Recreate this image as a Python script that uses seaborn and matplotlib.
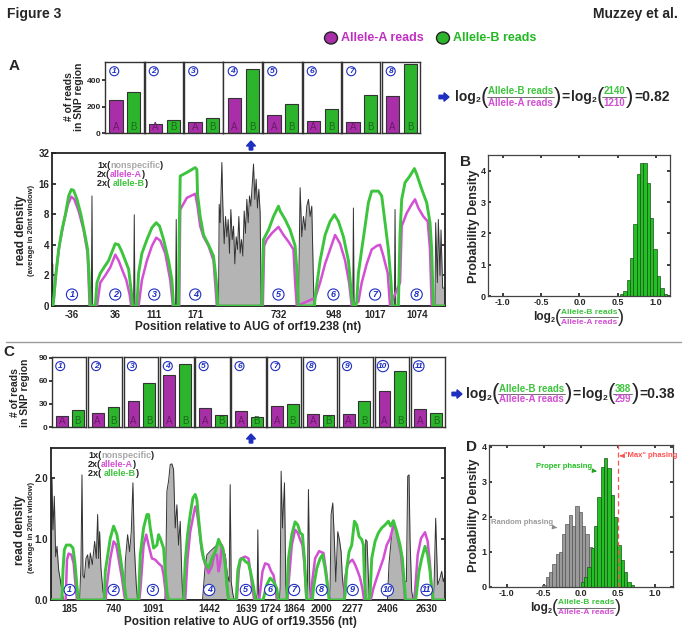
import numpy as np
import pandas as pd
import matplotlib
matplotlib.use('Agg')
import matplotlib.pyplot as plt
import matplotlib.patches as mpatches
import seaborn as sns

# ---------------- data ----------------
# panel A, reads per SNP region (allele A / allele B)
snp_a_alleleA = [248, 71, 86, 268, 139, 94, 86, 284]
snp_a_alleleB = [309, 96, 116, 489, 220, 180, 286, 527]
# panel C
snp_c_alleleA = [14.7, 18.6, 34.2, 67, 24.2, 20.3, 26.8, 16.9, 16.9, 46.8, 23.8]
snp_c_alleleB = [21.6, 26, 57.6, 82, 15.6, 13.4, 29.9, 16, 33.3, 72.7, 18.6]

# x tick labels (positions relative to AUG)
a_ticklabels = ['-36', '36', '111', '171', '732', '948', '1017', '1074']
a_tickpos = [60, 190, 307, 430, 680, 845, 970, 1095]
c_ticklabels = ['185', '740', '1091', '1442', '1639', '1724', '1864', '2000', '2277', '2406', '2630']
c_tickpos = [56, 188, 306, 475, 585, 658, 730, 813, 906, 1010, 1128]

# read density traces, panel A (window position, density)
a_green = [(0, 1.0), (3, 1.0), (10, 1.8), (20, 3.6), (30, 5.6), (40, 7.9), (50, 12.1), (58, 14.0), (65, 13.7),
           (75, 11.2), (87, 7.9), (100, 4.8), (107, 3.6), (111, 2.1), (115, 1.0),
           (130, 1.0), (135, 1.7), (145, 2.1), (160, 2.5), (170, 2.8), (180, 3.4), (190, 4.1), (200, 4.0),
           (210, 3.4), (220, 2.8), (230, 2.3), (238, 1.4), (242, 1.0),
           (255, 1.0), (260, 2.1), (270, 3.3), (285, 4.5), (300, 5.9), (313, 6.6), (323, 6.1), (335, 4.5),
           (350, 2.8), (360, 1.8), (365, 1.0),
           (380, 1.0), (382, 5.0), (385, 19.0), (405, 20.6), (430, 23.0), (435, 22.0), (437, 12.5), (445, 7.6),
           (455, 5.0), (470, 4.0), (485, 3.1), (493, 1.8), (498, 1.0),
           (630, 1.0), (635, 4.5), (650, 5.6), (665, 7.6), (680, 9.6), (685, 8.6), (700, 7.1), (715, 5.6),
           (730, 3.9), (735, 2.3), (740, 1.0),
           (788, 1.0), (790, 1.2), (805, 2.8), (820, 5.0), (835, 6.8), (848, 7.9), (860, 6.8), (875, 4.8),
           (890, 2.8), (900, 1.2), (905, 1.0),
           (912, 1.0), (915, 1.1), (920, 2.1), (930, 3.6), (940, 6.1), (950, 10.4), (960, 13.5), (980, 13.5),
           (990, 12.1), (1000, 6.6), (1010, 3.6), (1018, 1.7), (1022, 1.0),
           (1040, 1.0), (1045, 5.2), (1050, 11.2), (1060, 16.4), (1075, 19.1), (1088, 22.5), (1095, 19.8),
           (1110, 14.1), (1125, 10.4), (1135, 6.6), (1140, 3.6), (1145, 1.0), (1180, 1.0)]
a_magenta = [(0, 1.0), (5, 1.1), (13, 2.3), (23, 4.1), (35, 6.6), (48, 10.0), (58, 11.9), (67, 11.2), (80, 8.6),
             (95, 5.6), (107, 3.3), (113, 1.0),
             (135, 1.0), (145, 1.7), (160, 2.0), (175, 2.4), (190, 3.2), (200, 2.8), (210, 2.3), (223, 1.8),
             (233, 1.3), (238, 1.0),
             (260, 1.0), (270, 1.8), (285, 2.8), (300, 3.9), (313, 4.7), (325, 4.4), (340, 3.3), (355, 1.8),
             (363, 1.0),
             (382, 1.0), (385, 8.9), (405, 11.6), (430, 12.7), (437, 9.6), (445, 6.1), (455, 4.8), (470, 3.9),
             (485, 2.8), (495, 1.0),
             (633, 1.0), (637, 3.9), (645, 4.5), (660, 5.2), (680, 6.0), (695, 5.0), (710, 4.3), (725, 3.6),
             (730, 1.7), (735, 1.0),
             (790, 1.2), (805, 1.7), (820, 2.6), (835, 3.6), (850, 5.0), (865, 4.1), (880, 2.8), (892, 1.7),
             (900, 1.0),
             (920, 1.1), (930, 1.7), (945, 2.6), (960, 3.6), (975, 3.9), (985, 4.0), (995, 3.1), (1008, 2.1),
             (1015, 1.0),
             (1045, 1.7), (1050, 6.1), (1065, 8.2), (1080, 10.0), (1090, 11.2), (1100, 9.2), (1115, 7.6),
             (1128, 6.8), (1135, 3.6), (1140, 1.0), (1180, 1.0)]
a_gray = [(0, 1.0), (1, 1.0), (2, 2.6), (3, 1.0), (118, 1.0), (120, 12.1), (122, 1.0), (245, 1.0), (247, 7.9),
          (249, 1.0), (371, 1.0), (373, 7.1), (375, 1.0),
          (500, 1.0), (502, 10.0), (505, 6.6), (510, 25.8), (513, 9.6), (517, 4.1), (521, 7.6), (525, 4.8),
          (529, 7.1), (533, 3.3), (537, 8.9), (541, 4.5), (545, 6.1), (549, 2.6), (553, 4.8), (557, 3.6),
          (561, 7.6), (565, 3.3), (569, 4.5), (573, 3.1), (577, 8.6), (581, 5.2), (585, 11.2), (589, 6.6),
          (593, 12.1), (597, 9.6), (601, 15.2), (605, 24.9), (609, 11.2), (613, 17.7), (617, 9.2), (621, 14.1),
          (625, 8.2), (628, 1.0),
          (740, 1.0), (745, 14.6), (750, 4.8), (755, 7.6), (760, 5.6), (765, 9.6), (770, 11.2), (775, 7.6),
          (780, 9.6), (785, 1.7), (787, 1.0),
          (903, 1.0), (905, 9.2), (907, 1.0), (1028, 1.0), (1030, 8.9), (1032, 1.0),
          (1150, 1.0), (1152, 6.6), (1157, 1.7), (1160, 7.1), (1165, 2.0), (1168, 5.6), (1173, 1.5), (1180, 1.5)]

# read density traces, panel C
c_green = [(0, 0), (33, 0), (36, 0.49), (40, 0.82), (46, 0.90), (58, 0.90), (66, 0.85), (72, 0.60), (78, 0.22),
           (82, 0),
           (160, 0), (163, 0.47), (178, 1.01), (188, 1.21), (198, 1.07), (203, 0.90), (213, 0.52), (223, 0.14),
           (226, 0),
           (263, 0), (268, 0.74), (278, 1.18), (288, 1.40), (293, 1.40), (298, 1.18), (308, 0.85), (318, 0.90),
           (323, 1.07), (328, 1.01), (338, 0.85), (343, 0.47), (348, 0.14), (353, 0),
           (398, 0), (403, 0.63), (410, 1.07), (418, 1.40), (426, 1.67), (433, 1.73), (438, 1.64), (443, 1.34),
           (450, 0.96), (458, 0.68), (466, 0.58), (473, 0.52), (483, 0.68), (493, 0.79), (503, 0.99), (510, 0.90),
           (516, 0.85), (523, 0.58), (528, 0.25), (533, 0),
           (556, 0), (561, 0.49), (568, 0.66), (576, 0.68), (584, 0.63), (593, 0.60), (600, 0.44), (608, 0.22),
           (614, 0),
           (636, 0), (638, 0.03), (648, 0.25), (658, 0.36), (668, 0.30), (678, 0.19), (683, 0),
           (708, 0), (713, 0.68), (723, 1.07), (733, 1.28), (741, 1.23), (748, 1.10), (755, 1.07), (761, 0.68),
           (765, 0.25), (768, 0),
           (785, 0), (788, 0.19), (798, 0.52), (808, 0.68), (815, 0.74), (823, 0.52), (831, 0.19), (835, 0),
           (880, 0), (883, 0.08), (888, 0.52), (895, 0.79), (903, 0.90), (911, 1.29), (918, 1.23), (925, 1.04),
           (933, 0.99), (938, 0.90), (941, 0.36), (945, 0),
           (955, 0), (958, 0.08), (963, 0.68), (973, 0.96), (983, 1.10), (993, 1.18), (1003, 1.23), (1013, 1.29),
           (1020, 1.21), (1028, 1.30), (1038, 1.12), (1048, 0.90), (1055, 0.68), (1061, 0.25), (1065, 0),
           (1095, 0), (1098, 0.14), (1105, 0.47), (1113, 0.68), (1123, 0.88), (1131, 0.74), (1138, 0.47),
           (1143, 0.19), (1148, 0), (1183, 0)]
c_magenta = [(0, 0), (44, 0), (48, 0.66), (53, 0.76), (61, 0.74), (68, 0.60), (74, 0.22), (78, 0),
             (164, 0), (168, 0.25), (178, 0.68), (188, 0.96), (196, 0.90), (203, 0.68), (213, 0.36), (220, 0.08),
             (223, 0),
             (265, 0), (268, 0.14), (278, 0.90), (286, 1.07), (293, 0.90), (303, 0.68), (313, 0.66), (323, 0.60),
             (333, 0.55), (338, 0.41), (343, 0.19), (348, 0),
             (403, 0), (410, 0.68), (418, 1.12), (426, 1.34), (433, 1.53), (438, 1.45), (446, 1.12), (453, 0.79),
             (463, 0.58), (473, 0.44), (483, 0.55), (490, 0.74), (498, 0.74), (503, 0.47), (508, 0.60),
             (513, 0.90), (523, 0.68), (530, 0.14), (533, 0),
             (558, 0), (564, 0.49), (570, 0.68), (583, 0.71), (593, 0.68), (598, 0.49), (604, 0.22), (610, 0),
             (625, 0), (628, 0.14), (635, 0.47), (643, 0.60), (653, 0.58), (661, 0.47), (668, 0.41), (673, 0.25),
             (678, 0),
             (710, 0), (713, 0.25), (723, 0.90), (733, 1.15), (741, 1.10), (748, 0.99), (755, 0.90), (761, 0.58),
             (766, 0.08), (768, 0),
             (780, 0), (783, 0.25), (793, 0.68), (805, 0.80), (818, 0.77), (826, 0.47), (833, 0.14), (838, 0),
             (880, 0), (883, 0.36), (891, 0.58), (898, 0.63), (905, 0.66), (913, 0.58), (921, 0.47), (928, 0.36),
             (935, 0.19), (940, 0),
             (960, 0), (968, 0.19), (978, 0.36), (988, 0.52), (998, 0.68), (1008, 0.90), (1018, 1.01),
             (1028, 1.21), (1035, 1.18), (1043, 0.96), (1051, 0.74), (1058, 0.36), (1063, 0),
             (1090, 0), (1093, 0.14), (1101, 0.74), (1111, 1.01), (1123, 1.11), (1131, 0.96), (1138, 0.58),
             (1143, 0.14), (1146, 0), (1183, 0)]
c_gray = [(0, 0), (3, 2.0), (6, 1.15), (10, 1.7), (14, 0.71), (18, 0.88), (23, 0.49), (28, 0.33), (34, 0.1),
          (38, 0),
          (86, 0), (90, 0.6), (93, 2.05), (96, 0.4), (100, 0.36), (105, 0.68), (110, 0.74), (114, 0.52),
          (118, 0.77), (124, 0.58), (131, 0.96), (136, 0.68), (140, 1.40), (143, 0.68), (146, 1.12), (150, 0.52),
          (156, 0.14), (162, 0),
          (221, 0), (223, 0.63), (230, 1.07), (236, 0.79), (241, 1.12), (246, 1.92), (250, 0.90), (256, 0.25),
          (260, 0),
          (342, 0), (344, 0.3), (348, 1.78), (353, 1.95), (358, 2.22), (363, 2.23), (368, 2.14), (373, 1.18),
          (378, 1.56), (383, 0.90), (388, 1.29), (393, 0.36), (396, 0),
          (455, 0), (462, 0.5), (468, 0.74), (478, 0.8), (488, 0.85), (498, 0.9), (503, 1.01), (513, 0.9),
          (523, 0.74), (530, 0.4), (535, 0.3), (538, 1.89), (541, 0.3), (546, 0.1), (550, 0),
          (616, 0), (619, 0.1), (621, 1.15), (623, 0.1), (626, 0),
          (686, 0), (688, 0.2), (691, 2.11), (695, 1.18), (701, 1.92), (705, 0.25), (708, 0),
          (768, 0), (770, 0.3), (773, 1.81), (777, 0.2), (780, 0),
          (836, 0), (838, 0.2), (841, 1.40), (846, 1.59), (851, 0.96), (855, 0.3), (861, 1.12), (866, 0.99),
          (871, 0.79), (875, 0.36), (880, 0.1), (883, 0),
          (943, 0), (945, 0.99), (949, 0.96), (953, 0.36), (956, 0),
          (1010, 0), (1015, 0.6), (1025, 1.2), (1030, 1.25), (1038, 1.1), (1048, 0.9), (1055, 0.6), (1060, 0.3),
          (1067, 0.3), (1071, 2.03), (1075, 2.05), (1078, 0.99), (1083, 0.14), (1088, 0),
          (1148, 0), (1150, 0.2), (1155, 1.34), (1161, 0.25), (1168, 0.36), (1173, 0.47), (1178, 0.3),
          (1183, 0.4)]

# histograms (bin centre, probability density)
b_centers = [0.552, 0.595, 0.639, 0.682, 0.726, 0.769, 0.813, 0.856, 0.900, 0.943, 0.987, 1.030, 1.074, 1.117]
b_density = [0.05, 0.15, 0.5, 1.2, 2.3, 3.9, 4.25, 4.25, 3.6, 2.5, 1.5, 0.65, 0.25, 0.05]
d_random_centers = [-0.4975, -0.4525, -0.4075, -0.3625, -0.3175, -0.2725, -0.2275, -0.1825, -0.1375,
                    -0.0925, -0.0475, -0.0025, 0.0425, 0.0875, 0.1325]
d_random_density = [0.07, 0.29, 0.43, 0.65, 0.93, 1.0, 1.5, 1.8, 2.05, 1.75, 2.3, 2.15, 1.75, 1.5, 1.15]
d_proper_centers = [0.0225, 0.0675, 0.1125, 0.1575, 0.2025, 0.2475, 0.2925, 0.3375, 0.3825, 0.4275, 0.4725,
                    0.5175, 0.5625, 0.6075, 0.6525, 0.6975]
d_proper_density = [0.14, 0.29, 0.57, 1.1, 1.74, 2.57, 3.43, 3.69, 3.38, 2.62, 2.0, 1.19, 0.76, 0.43, 0.14, 0.05]
max_phasing = 0.5

# ---------------- style ----------------
sns.set_theme(style='white')
plt.rcParams['font.family'] = ['Liberation Sans', 'DejaVu Sans']
plt.rcParams['font.weight'] = 'bold'
plt.rcParams['axes.labelweight'] = 'bold'

MAG = '#d34fd3'
GRN = '#3dc43d'
MAG_BAR = '#a92fa9'
GRN_BAR = '#2cb52c'
BLUE = '#1f2fbf'
DARK = '#222222'

W, H = 685, 632
fig = plt.figure(figsize=(W / 100, H / 100), dpi=100)

# overlay in pixel coordinates for free text
ov = fig.add_axes([0, 0, 1, 1])
ov.set_xlim(0, W)
ov.set_ylim(H, 0)
ov.axis('off')
ov.set_zorder(10)
renderer = fig.canvas.get_renderer()


def box(l, t, r, b):
    return fig.add_axes([l / W, 1 - b / H, (r - l) / W, (b - t) / H])


def wpx(t):
    return t.get_window_extent(renderer).width


def rainbow(x, y, parts, size):
    t = ov.text(x, y, parts[0][0], color=parts[0][1], fontsize=size, va='center', ha='left')
    for s, c in parts[1:]:
        t = ov.annotate(s, xy=(1, 0), xycoords=t, va='bottom', ha='left', color=c, fontsize=size)


def log_ratio(x, y, num, den, s_main, s_frac, s_par, gap):
    t = ov.text(x, y, 'log', fontsize=s_main, va='center', ha='left')
    x += wpx(t)
    t2 = ov.text(x, y + s_main * 0.4, '2', fontsize=s_main * 0.6, va='center', ha='left')
    x += wpx(t2)
    p = ov.text(x, y, '(', fontsize=s_par, va='center', ha='left', fontweight='normal')
    x += wpx(p) * 0.8
    tn = ov.text(0, 0, num, fontsize=s_frac, color=GRN, va='center', ha='center')
    td = ov.text(0, 0, den, fontsize=s_frac, color=MAG, va='center', ha='center')
    w = max(wpx(tn), wpx(td)) + 2
    tn.set_position((x + w / 2, y - gap))
    td.set_position((x + w / 2, y + gap))
    ov.plot([x, x + w], [y, y], color='#555555', lw=0.6)
    x += w
    p2 = ov.text(x, y, ')', fontsize=s_par, va='center', ha='left', fontweight='normal')
    return x + wpx(p2)


def circled(ax, x, y, n, size, transform):
    ax.text(x, y, str(n), transform=transform, ha='center', va='center', fontsize=size,
            style='italic', color=BLUE, zorder=6,
            bbox=dict(boxstyle='circle,pad=0.12', fc='white', ec=BLUE, lw=0.8))


def snp_bars(vals_a, vals_b, left, step, width, top, bottom, ymax, yticks):
    for i, (va, vb) in enumerate(zip(vals_a, vals_b)):
        ax = box(left + i * step, top, left + i * step + width, bottom)
        sns.barplot(x=['A', 'B'], y=[va, vb], hue=['A', 'B'], palette=[MAG_BAR, GRN_BAR], legend=False,
                    ax=ax, width=0.75, saturation=1, edgecolor='#333333', linewidth=0.8)
        ax.set_xlim(-0.62, 1.55)
        ax.set_ylim(0, ymax)
        ax.set_xticks([])
        ax.set_xlabel('')
        ax.set_ylabel('')
        if i == 0:
            ax.set_yticks(yticks)
            ax.tick_params(axis='y', labelsize=6, length=2, pad=1, direction='out', left=True)
        else:
            ax.set_yticks([])
        for s in ax.spines.values():
            s.set_color('#333333')
            s.set_linewidth(1.0)
        ax.text(0, 0.02, 'A', transform=ax.get_xaxis_transform(), ha='center', va='bottom',
                fontsize=7, color='#6a1a6a', fontweight='normal')
        ax.text(1, 0.02, 'B', transform=ax.get_xaxis_transform(), ha='center', va='bottom',
                fontsize=7, color='#1a6a1a', fontweight='normal')
        circled(ax, 0.24, 0.87, i + 1, 6, ax.transAxes)


def density_panel(ax, gray, mag, grn, xmax, tickpos, ticklabels, circle_y):
    gx, gy = zip(*gray)
    base = 1.0 if ax.get_yscale() == 'log' else 0.0
    ax.fill_between(gx, base, gy, color='#b4b4b4', lw=0, zorder=1)
    sns.lineplot(x=list(gx), y=list(gy), ax=ax, color='#333333', linewidth=0.7, estimator=None, sort=False,
                 zorder=2)
    mx, my = zip(*mag)
    sns.lineplot(x=list(mx), y=list(my), ax=ax, color=MAG, linewidth=1.8, estimator=None, sort=False, zorder=3)
    gx2, gy2 = zip(*grn)
    sns.lineplot(x=list(gx2), y=list(gy2), ax=ax, color=GRN, linewidth=2.1, estimator=None, sort=False,
                 zorder=4)
    ax.set_xlim(0, xmax)
    ax.set_xticks(tickpos)
    ax.set_xticklabels(ticklabels)
    ax.tick_params(axis='x', length=0, labelsize=7, pad=3)
    ax.tick_params(axis='y', labelsize=7, direction='in', length=3, right=True, left=True, pad=2)
    ax.set_xlabel('')
    ax.set_ylabel('')
    for s in ax.spines.values():
        s.set_color(DARK)
        s.set_linewidth(1.3)
    for k, xp in enumerate(tickpos):
        circled(ax, xp, circle_y, k + 1, 6.5, ax.get_xaxis_transform())


def hist_panel(ax, series, xlim, ylim, yticks):
    for centers, dens, color, edge in series:
        c = np.array(centers)
        w = np.diff(c).mean()
        edges = [float(c[0] - w / 2)] + [float(v + w / 2) for v in c]
        df = pd.DataFrame({'x': c, 'w': dens})
        sns.histplot(data=df, x='x', weights='w', bins=edges, ax=ax, color=color, edgecolor=edge,
                     linewidth=0.5, alpha=1, stat='count')
    ax.set_xlim(*xlim)
    ax.set_ylim(*ylim)
    ax.set_xticks([-1.0, -0.5, 0.0, 0.5, 1.0])
    ax.set_xticklabels(['-1.0', '-0.5', '0.0', '0.5', '1.0'])
    ax.set_yticks(yticks)
    ax.tick_params(labelsize=6.5, direction='in', length=2.5, top=True, right=True, bottom=True, left=True,
                   pad=1.5)
    ax.set_xlabel('')
    ax.set_ylabel('')
    for s in ax.spines.values():
        s.set_color('#444444')
        s.set_linewidth(0.9)


# ---------------- header ----------------
ov.text(7, 14, 'Figure 3', fontsize=10, va='center', ha='left')
ov.text(678, 14, 'Muzzey et al.', fontsize=10, va='center', ha='right')
ov.add_patch(mpatches.Ellipse((331, 38), 13, 12, fc=MAG_BAR, ec=DARK, lw=1))
ov.text(341, 38, 'Allele-A reads', fontsize=9, color='#c030c0', va='center', ha='left')
ov.add_patch(mpatches.Ellipse((443, 38), 13, 12, fc=GRN_BAR, ec=DARK, lw=1))
ov.text(453, 38, 'Allele-B reads', fontsize=9, color='#22b822', va='center', ha='left')

# panel letters
ov.text(9, 66, 'A', fontsize=11, va='center', ha='left')
ov.text(460, 162, 'B', fontsize=11, va='center', ha='left')
ov.text(3, 352, 'C', fontsize=11, va='center', ha='left')
ov.text(466, 447, 'D', fontsize=11, va='center', ha='left')

# ---------------- panel A ----------------
snp_bars(snp_a_alleleA, snp_a_alleleB, 105, 39.5, 38.5, 62, 133, 540, [0, 200, 400])
ov.text(74, 97, '# of reads\nin SNP region', rotation=90, fontsize=7.5, va='center', ha='center',
        linespacing=1.0)

axA = box(52, 153, 445, 306)
axA.set_yscale('log', base=2)
density_panel(axA, a_gray, a_magenta, a_green, 1180, a_tickpos, a_ticklabels, 0.075)
axA.set_ylim(1, 32)
axA.set_yticks([1, 2, 4, 8, 16, 32])
axA.set_yticklabels(['0', '2', '4', '8', '16', '32'])
axA.yaxis.set_minor_locator(matplotlib.ticker.NullLocator())
ov.text(21, 230, 'read density', rotation=90, fontsize=8.5, va='center', ha='center')
ov.text(32, 230, '(average in 20nt window)', rotation=90, fontsize=5.5, va='center', ha='center')
ov.text(248, 327, 'Position relative to AUG of orf19.238 (nt)', fontsize=8.5, va='center', ha='center')
rainbow(97, 165, [('1x(', DARK), ('nonspecific', '#a8a8a8'), (')', DARK)], 6.5)
rainbow(97, 174.5, [('2x(', DARK), ('allele-A', MAG), (')', DARK)], 6.5)
rainbow(97, 184, [('2x( ', DARK), ('allele-B', GRN), (')', DARK)], 6.5)

# arrows
ov.add_patch(mpatches.FancyArrow(251, 150, 0, -9, width=3.5, head_width=9, head_length=5,
                                 length_includes_head=True, color=BLUE))
ov.add_patch(mpatches.FancyArrow(439, 97, 10, 0, width=3.5, head_width=8.5, head_length=5,
                                 length_includes_head=True, color=BLUE))
xe = log_ratio(455, 97, 'Allele-B reads', 'Allele-A reads', 10, 7, 16, 5.5)
t = ov.text(xe + 0.5, 97, '=', fontsize=10, va='center', ha='left')
xe = log_ratio(xe + 0.5 + wpx(t) + 1, 97, '2140', '1210', 10, 7, 16, 5.5)
ov.text(xe + 0.5, 97, '=0.82', fontsize=10, va='center', ha='left')

# panel B
axB = box(488, 155, 670, 296)
hist_panel(axB, [(b_centers, b_density, '#22c022', '#1c4f1c')], (-1.19, 1.18), (0, 4.5), [0, 1, 2, 3, 4])
ov.text(474, 226, 'Probability Density', rotation=90, fontsize=9, va='center', ha='center')
log_ratio(533, 317, 'Allele-B reads', 'Allele-A reads', 8.5, 6, 13, 5)

ov.plot([6, 681], [342, 342], color='#9a9a9a', lw=1)

# ---------------- panel C ----------------
snp_bars(snp_c_alleleA, snp_c_alleleB, 52, 35.85, 34.3, 357, 427, 91, [0, 30, 60, 90])
ov.text(20, 393, '# of reads\nin SNP region', rotation=90, fontsize=7.5, va='center', ha='center',
        linespacing=1.0)

axC = box(51, 448, 445, 600)
density_panel(axC, c_gray, c_magenta, c_green, 1183, c_tickpos, c_ticklabels, 0.066)
axC.set_ylim(0, 2.49)
axC.set_yticks([0, 1.0, 2.0])
axC.set_yticklabels(['0.0', '1.0', '2.0'])
ov.text(20, 530, 'read density', rotation=90, fontsize=8.5, va='center', ha='center')
ov.text(32, 527, '(average in 20nt window)', rotation=90, fontsize=5.5, va='center', ha='center')
ov.text(240, 622, 'Position relative to AUG of orf19.3556 (nt)', fontsize=8.5, va='center', ha='center')
rainbow(88, 455, [('1x(', DARK), ('nonspecific', '#a8a8a8'), (')', DARK)], 6.5)
rainbow(88, 464.5, [('2x(', DARK), ('allele-A', MAG), (')', DARK)], 6.5)
rainbow(88, 474, [('2x( ', DARK), ('allele-B', GRN), (')', DARK)], 6.5)

ov.add_patch(mpatches.FancyArrow(251, 443, 0, -9, width=3.5, head_width=9, head_length=5,
                                 length_includes_head=True, color=BLUE))
ov.add_patch(mpatches.FancyArrow(452, 394, 10, 0, width=3.5, head_width=8.5, head_length=5,
                                 length_includes_head=True, color=BLUE))
xe = log_ratio(466, 394, 'Allele-B reads', 'Allele-A reads', 10, 7, 16, 5.5)
t = ov.text(xe + 0.5, 394, '=', fontsize=10, va='center', ha='left')
xe = log_ratio(xe + 0.5 + wpx(t) + 1, 394, '388', '299', 10, 7, 16, 5.5)
ov.text(xe + 0.5, 394, '=0.38', fontsize=10, va='center', ha='left')

# panel D
axD = box(489, 445, 673, 587)
hist_panel(axD, [(d_random_centers, d_random_density, '#9a9a9a', '#555555'),
                 (d_proper_centers, d_proper_density, '#22c022', '#1c4f1c')],
           (-1.24, 1.25), (0, 4.05), [0, 1, 2, 3, 4])
axD.axvline(max_phasing, color='#ff5050', lw=0.9, ls=(0, (4, 2.5)), zorder=5)
axD.annotate('Proper phasing', xy=(0.22, 3.30), xytext=(0.16, 3.43), ha='right', va='center', fontsize=5.5,
             color='#22c022', arrowprops=dict(arrowstyle='-|>', color='#22a022', lw=0.8, mutation_scale=6))
axD.annotate('Random phasing', xy=(-0.32, 1.69), xytext=(-0.37, 1.84), ha='right', va='center', fontsize=5.5,
             color='#9a9a9a', arrowprops=dict(arrowstyle='-|>', color='#888888', lw=0.8, mutation_scale=6))
axD.annotate('"Max" phasing', xy=(0.53, 3.74), xytext=(0.59, 3.74), ha='left', va='center', fontsize=5.5,
             color='#ff5050', arrowprops=dict(arrowstyle='-|>', color='#ff5050', lw=0.8, mutation_scale=6))
ov.text(474, 515, 'Probability Density', rotation=90, fontsize=9, va='center', ha='center')
log_ratio(530, 608, 'Allele-B reads', 'Allele-A reads', 8.5, 6, 13, 5)

fig.savefig('out.png', dpi=100)
